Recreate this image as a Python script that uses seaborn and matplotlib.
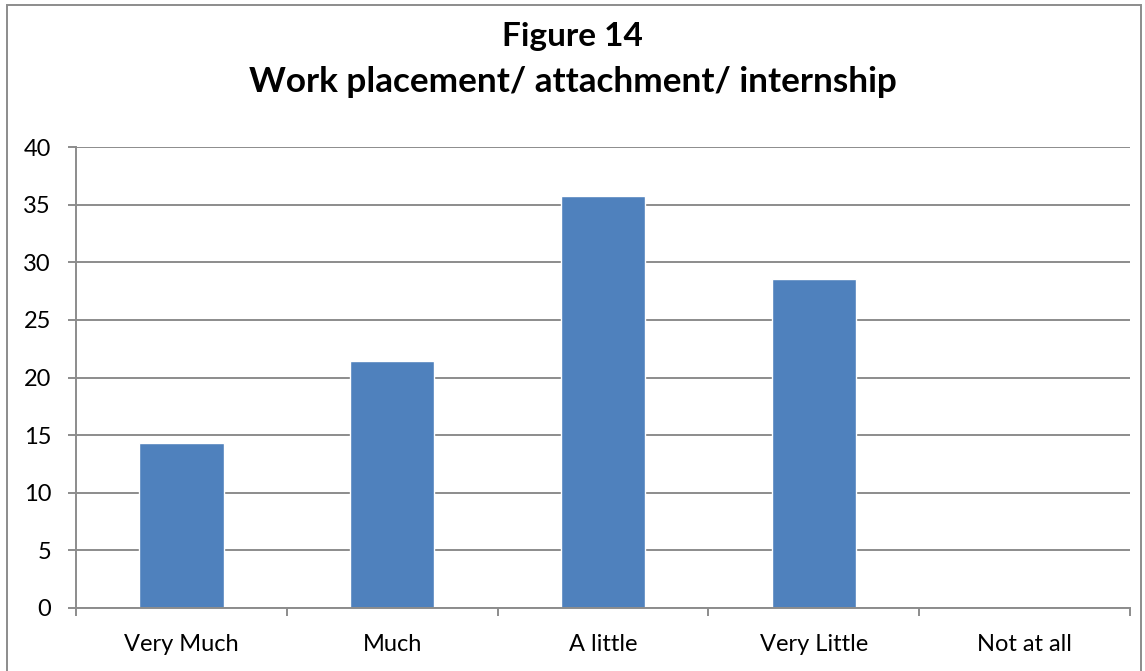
import numpy as np
import pandas as pd
import matplotlib
matplotlib.use("Agg")
import matplotlib.pyplot as plt
from matplotlib.patches import Rectangle
import seaborn as sns

# ── data ──────────────────────────────────────────────
categories = ["Very Much", "Much", "A little", "Very Little", "Not at all"]
values = [14.29, 21.43, 35.71, 28.57, 0.0]
y_ticks = [0, 5, 10, 15, 20, 25, 30, 35, 40]
title_lines = ["Figure 14", "Work placement/ attachment/ internship"]

sns.set_theme(style="white")
plt.rcParams["font.family"] = ["Lato", "DejaVu Sans"]
plt.rcParams["text.color"] = "black"

df = pd.DataFrame({"category": categories, "value": values})

fig = plt.figure(figsize=(11.45, 6.71), dpi=100)
ax = fig.add_axes([0.0664, 0.0939, 0.9205, 0.687])

grid_c = "#8c8c8c"
sns.barplot(data=df, x="category", y="value", color="#4F81BD", saturation=1,
            width=0.4, ax=ax, order=categories)

ax.set_xlim(-0.5, len(categories) - 0.5)
ax.set_ylim(0, 40)
ax.set_yticks(y_ticks)
ax.yaxis.grid(True, color=grid_c, lw=1.4)
ax.set_axisbelow(True)
ax.set_xlabel(""); ax.set_ylabel("")

for s in ["top", "right"]:
    ax.spines[s].set_visible(False)
for s in ["left", "bottom"]:
    ax.spines[s].set_color(grid_c)
    ax.spines[s].set_linewidth(1.4)

ax.tick_params(axis="y", which="major", length=6, width=1.4, color=grid_c,
               direction="out", left=True, pad=12, labelsize=17, labelcolor="black")
ax.set_xticks(np.arange(-0.5, len(categories), 1.0), minor=True)
ax.tick_params(axis="x", which="minor", length=6, width=1.4, color=grid_c,
               direction="out", bottom=True)
ax.tick_params(axis="x", which="major", length=0, pad=19, labelsize=17,
               labelcolor="black")

fig.text(0.5, 0.945, title_lines[0], ha="center", va="center",
         fontsize=24, fontweight="bold", color="black")
fig.text(0.5, 0.878, title_lines[1], ha="center", va="center",
         fontsize=25.3, fontweight="bold", color="black")

# chart-area frame
fig.patches.append(Rectangle((7 / 1145, -0.05), 1134 / 1145, 1.0 - 5 / 671 + 0.05,
                             transform=fig.transFigure, fill=False,
                             edgecolor=grid_c, lw=1.4))

fig.savefig("out.png", dpi=100)
